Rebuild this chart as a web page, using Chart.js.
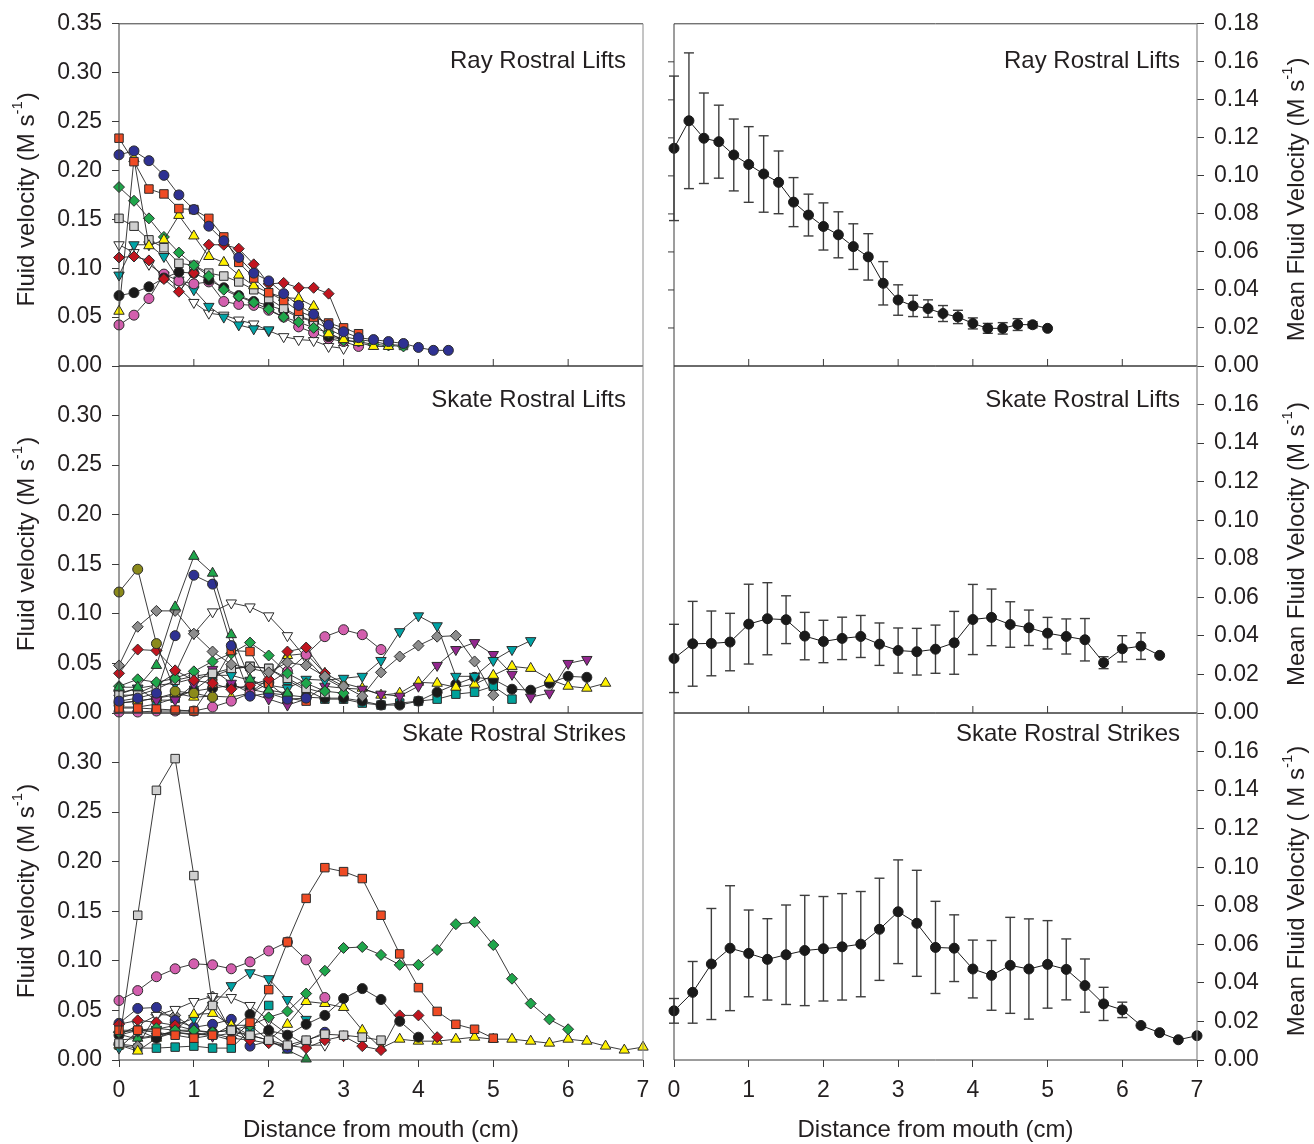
<!DOCTYPE html>
<html>
<head>
<meta charset="utf-8">
<title>Fluid velocity vs distance from mouth</title>
<script src="https://cdn.jsdelivr.net/npm/chart.js@4.4.1/dist/chart.umd.min.js"></script>
<style>
  html, body { margin: 0; padding: 0; background: #fff; }
  #wrap { position: relative; width: 1314px; height: 1144px; }
  #wrap canvas { position: absolute; left: 0; top: 0; }
</style>
</head>
<body>
<div id="wrap">
  <canvas id="c0" width="1314" height="1144"></canvas>
  <canvas id="c1" width="1314" height="1144"></canvas>
  <canvas id="c2" width="1314" height="1144"></canvas>
  <canvas id="c3" width="1314" height="1144"></canvas>
  <canvas id="c4" width="1314" height="1144"></canvas>
  <canvas id="c5" width="1314" height="1144"></canvas>
</div>
<script>
// distances (cm)
const distRay = [0, 0.2, 0.4, 0.6, 0.8, 1.0, 1.2, 1.4, 1.6, 1.8, 2.0, 2.2, 2.4, 2.6, 2.8, 3.0, 3.2, 3.4, 3.6, 3.8, 4.0, 4.2, 4.4, 4.6, 4.8, 5.0];
const distSkate = [0, 0.25, 0.5, 0.75, 1.0, 1.25, 1.5, 1.75, 2.0, 2.25, 2.5, 2.75, 3.0, 3.25, 3.5, 3.75, 4.0, 4.25, 4.5, 4.75, 5.0, 5.25, 5.5, 5.75, 6.0, 6.25, 6.5, 6.75, 7.0];
const xTicks = [0, 1, 2, 3, 4, 5, 6, 7];

// Ray rostral lifts - individual trials
const rayBlue   = [0.216, 0.220, 0.210, 0.195, 0.175, 0.160, 0.143, 0.128, 0.111, 0.095, 0.087, 0.074, 0.062, 0.053, 0.042, 0.035, 0.029, 0.027, 0.025, 0.023, 0.019, 0.016, 0.016];
const rayOrange = [0.233, 0.209, 0.181, 0.176, 0.161, 0.160, 0.151, 0.132, 0.106, 0.090, 0.075, 0.067, 0.056, 0.050, 0.044, 0.039, 0.033];
const rayYellow = [0.056, 0.212, 0.123, 0.129, 0.154, 0.133, 0.112, 0.106, 0.093, 0.082, 0.075, 0.070, 0.069, 0.061, 0.033, 0.027, 0.024, 0.020, 0.020];
const rayGreen  = [0.183, 0.169, 0.151, 0.132, 0.116, 0.103, 0.092, 0.078, 0.071, 0.065, 0.058, 0.050, 0.045, 0.039, 0.034, 0.026, 0.025, 0.022, 0.021, 0.020];
const rayGreyL  = [0.151, 0.143, 0.129, 0.121, 0.105, 0.103, 0.095, 0.092, 0.086, 0.078, 0.069, 0.059, 0.051, 0.046, 0.038, 0.030, 0.027, 0.025, 0.022, 0.021];
const rayWhite  = [0.124, 0.116, 0.104, 0.093, 0.080, 0.065, 0.054, 0.052, 0.047, 0.043, 0.036, 0.030, 0.027, 0.026, 0.020, 0.018];
const rayTeal   = [0.093, 0.124, 0.124, 0.112, 0.088, 0.078, 0.061, 0.050, 0.042, 0.038, 0.037];
const rayRed    = [0.111, 0.112, 0.108, 0.089, 0.076, 0.095, 0.124, 0.124, 0.120, 0.104, 0.084, 0.085, 0.080, 0.080, 0.074, 0.037];
const rayBlack  = [0.072, 0.075, 0.081, 0.090, 0.096, 0.095, 0.088, 0.080, 0.072, 0.066, 0.062, 0.057, 0.050, 0.045, 0.030, 0.027];
const rayPink   = [0.042, 0.052, 0.069, 0.094, 0.087, 0.084, 0.086, 0.066, 0.063, 0.062, 0.057, 0.050, 0.040, 0.034, 0.028, 0.025, 0.020];

// Skate rostral lifts - individual trials
const slOlive   = [0.122, 0.145, 0.070, 0.022, 0.020, 0.016];
const slGreenT  = [0.026, 0.026, 0.048, 0.107, 0.158, 0.141, 0.079, 0.034, 0.023, 0.020];
const slBlue    = [0.012, 0.015, 0.020, 0.078, 0.139, 0.130, 0.068, 0.017, 0.020, 0.014, 0.015];
const slWhite   = [0.015, 0.020, 0.028, 0.040, 0.080, 0.102, 0.111, 0.107, 0.098, 0.078, 0.055, 0.035, 0.025];
const slGrey    = [0.048, 0.087, 0.103, 0.103, 0.080, 0.062, 0.049, 0.045, 0.041, 0.051, 0.048, 0.037, 0.027, 0.017, 0.041, 0.057, 0.068, 0.077, 0.078, 0.052, 0.018];
const slPink    = [0.001, 0.001, 0.002, 0.002, 0.002, 0.006, 0.012, 0.020, 0.030, 0.042, 0.059, 0.077, 0.084, 0.079, 0.064];
const slTealT   = [0.020, 0.025, 0.028, 0.030, 0.035, 0.038, 0.038, 0.033, 0.028, 0.025, 0.034, 0.033, 0.035, 0.037, 0.053, 0.082, 0.098, 0.088, 0.037, 0.037, 0.053, 0.064, 0.073];
const slPurple  = [0.019, 0.025, 0.013, 0.013, 0.029, 0.044, 0.030, 0.020, 0.014, 0.008, 0.014, 0.027, 0.025, 0.024, 0.019, 0.017, 0.027, 0.048, 0.064, 0.071, 0.059, 0.039, 0.016, 0.020, 0.050, 0.054];
const slYellow  = [0.010, 0.012, 0.015, 0.020, 0.016, 0.017, 0.016, 0.020, 0.035, 0.058, 0.060, 0.040, 0.030, 0.025, 0.018, 0.020, 0.031, 0.030, 0.026, 0.029, 0.038, 0.047, 0.045, 0.034, 0.027, 0.025, 0.030];
const slBlack   = [0.010, 0.012, 0.015, 0.018, 0.022, 0.025, 0.028, 0.024, 0.020, 0.018, 0.016, 0.015, 0.015, 0.012, 0.008, 0.008, 0.012, 0.021, 0.029, 0.036, 0.034, 0.024, 0.023, 0.030, 0.037, 0.036];
const slTealS   = [0.006, 0.006, 0.009, 0.015, 0.023, 0.037, 0.044, 0.047, 0.045, 0.033, 0.023, 0.014, 0.014, 0.010, 0.008, 0.010, 0.012, 0.014, 0.019, 0.021, 0.027, 0.014];
const slRed     = [0.040, 0.064, 0.063, 0.043, 0.033, 0.030, 0.024, 0.028, 0.034, 0.062, 0.066, 0.040];
const slGreen   = [0.027, 0.034, 0.031, 0.035, 0.042, 0.052, 0.060, 0.071, 0.058, 0.040, 0.030, 0.022, 0.020];
const slGreyL   = [0.018, 0.018, 0.024, 0.033, 0.037, 0.040, 0.045, 0.047, 0.045, 0.035, 0.025, 0.020];
const slOrange  = [0.005, 0.005, 0.004, 0.003, 0.002, 0.030, 0.063, 0.062, 0.030, 0.015, 0.012];

// Skate rostral strikes - individual trials
const ssGreyL   = [0.017, 0.146, 0.272, 0.304, 0.186, 0.055, 0.030, 0.025, 0.020, 0.015, 0.020, 0.026, 0.025, 0.023, 0.020];
const ssOrange  = [0.030, 0.030, 0.028, 0.025, 0.022, 0.025, 0.020, 0.038, 0.071, 0.119, 0.163, 0.194, 0.190, 0.183, 0.146, 0.107, 0.073, 0.049, 0.036, 0.031, 0.022];
const ssPink    = [0.060, 0.070, 0.084, 0.092, 0.097, 0.096, 0.092, 0.099, 0.110, 0.119, 0.101, 0.063];
const ssGreen   = [0.028, 0.030, 0.032, 0.030, 0.030, 0.028, 0.030, 0.035, 0.043, 0.049, 0.067, 0.090, 0.113, 0.114, 0.106, 0.096, 0.096, 0.111, 0.137, 0.139, 0.116, 0.082, 0.057, 0.041, 0.031];
const ssGreenT  = [0.020, 0.022, 0.025, 0.028, 0.026, 0.025, 0.035, 0.035, 0.020, 0.010, 0.001];
const ssBlack   = [0.025, 0.030, 0.022, 0.028, 0.025, 0.028, 0.030, 0.046, 0.030, 0.025, 0.036, 0.045, 0.062, 0.072, 0.061, 0.039, 0.023];
const ssYellow  = [0.015, 0.009, 0.022, 0.030, 0.046, 0.047, 0.035, 0.025, 0.020, 0.036, 0.059, 0.057, 0.053, 0.030, 0.012, 0.021, 0.019, 0.019, 0.021, 0.023, 0.021, 0.021, 0.019, 0.017, 0.021, 0.019, 0.014, 0.010, 0.013];
const ssWhite   = [0.025, 0.035, 0.045, 0.051, 0.059, 0.064, 0.063, 0.055, 0.040, 0.026, 0.015, 0.015];
const ssTealT   = [0.012, 0.029, 0.031, 0.035, 0.042, 0.055, 0.075, 0.088, 0.082, 0.061, 0.041];
const ssBlue    = [0.037, 0.052, 0.053, 0.040, 0.033, 0.036, 0.041, 0.014, 0.019, 0.012, 0.019, 0.028];
const ssRed     = [0.036, 0.040, 0.038, 0.035, 0.030, 0.027, 0.022, 0.020, 0.017, 0.015, 0.012, 0.020, 0.024, 0.014, 0.010, 0.045, 0.045, 0.023];
const ssTealS   = [0.015, 0.012, 0.012, 0.013, 0.014, 0.012, 0.012, 0.030, 0.055];
const ssPurple  = [0.026, 0.021, 0.024, 0.030, 0.028, 0.024, 0.027, 0.020];
const ssGrey    = [0.016, 0.014, 0.046, 0.045, 0.031, 0.064, 0.028, 0.025, 0.028, 0.015];

// means and errors (right column)
const rayMean = [0.1145, 0.129, 0.1198, 0.118, 0.111, 0.106, 0.101, 0.0966, 0.0862, 0.0794, 0.0734, 0.069, 0.0628, 0.0574, 0.0435, 0.0347, 0.0316, 0.0302, 0.0276, 0.0258, 0.0224, 0.0198, 0.0198, 0.0218, 0.0217, 0.0198];
const rayErr  = [0.038, 0.0357, 0.0238, 0.0192, 0.0189, 0.0199, 0.0201, 0.0165, 0.0129, 0.011, 0.0124, 0.0121, 0.012, 0.0122, 0.0114, 0.008, 0.0056, 0.0046, 0.0042, 0.0035, 0.0029, 0.0026, 0.003, 0.0031, 0.0016, 0];
const slMean  = [0.0283, 0.0359, 0.0361, 0.0368, 0.0461, 0.0489, 0.0484, 0.0399, 0.0371, 0.0387, 0.0397, 0.0357, 0.0324, 0.0318, 0.0331, 0.0364, 0.0485, 0.0496, 0.0459, 0.0442, 0.0414, 0.0397, 0.038, 0.0261, 0.0333, 0.0347, 0.0299];
const slErr   = [0.0177, 0.022, 0.0168, 0.0149, 0.0207, 0.0187, 0.0124, 0.0123, 0.011, 0.011, 0.0109, 0.011, 0.0117, 0.0121, 0.0125, 0.0163, 0.0182, 0.0147, 0.0118, 0.0092, 0.0082, 0.0091, 0.011, 0.0031, 0.0068, 0.0069, 0];
const ssMean  = [0.0255, 0.0351, 0.0498, 0.058, 0.0553, 0.0522, 0.0546, 0.0568, 0.0577, 0.0587, 0.0601, 0.0678, 0.0769, 0.0709, 0.0584, 0.058, 0.0472, 0.0439, 0.0491, 0.0472, 0.0496, 0.047, 0.0386, 0.0291, 0.026, 0.0179, 0.0142, 0.0105, 0.0126];
const ssErr   = [0.0064, 0.016, 0.0288, 0.0324, 0.0225, 0.0211, 0.0258, 0.0286, 0.0271, 0.0276, 0.0273, 0.0265, 0.0269, 0.0275, 0.0239, 0.0173, 0.015, 0.0181, 0.0249, 0.026, 0.0227, 0.0158, 0.0138, 0.0086, 0.004, 0, 0, 0, 0];

const FONT = "'Liberation Sans', Arial, Helvetica, sans-serif";
const TXT = '#231f20';
const AXC = '#3a3a3a';
const EDGE = '#8a8a8a';

// marker looks
const MARK = {
  orangeSq: { shape: 'rect', fill: '#ef4b24', r: 6 },
  blueC:    { shape: 'circle', fill: '#2e3192', r: 5 },
  greenD:   { shape: 'rectRot', fill: '#1fa64b', r: 5.5 },
  greyLSq:  { shape: 'rect', fill: '#cfcfcf', r: 6 },
  whiteT:   { shape: 'triangle', fill: '#ffffff', r: 6, rot: 180 },
  tealT:    { shape: 'triangle', fill: '#00a3a6', r: 6, rot: 180 },
  redD:     { shape: 'rectRot', fill: '#c1151f', r: 5.5 },
  blackC:   { shape: 'circle', fill: '#1a1a1a', r: 5 },
  yellowT:  { shape: 'triangle', fill: '#fff200', r: 6 },
  pinkC:    { shape: 'circle', fill: '#d35fae', r: 5 },
  oliveC:   { shape: 'circle', fill: '#8b8a1a', r: 5 },
  greyD:    { shape: 'rectRot', fill: '#8d8d8d', r: 5.5 },
  purpleT:  { shape: 'triangle', fill: '#93278f', r: 6, rot: 180 },
  tealSq:   { shape: 'rect', fill: '#00a19a', r: 6 },
  greenT:   { shape: 'triangle', fill: '#1fa64b', r: 6 }
};

function trials(list, xs) {
  return list.map(function(item) {
    const vals = item[0], m = MARK[item[1]];
    return {
      data: vals.map(function(v, i) { return { x: xs[i], y: v }; }),
      borderColor: '#262626',
      borderWidth: 0.9,
      pointStyle: m.shape,
      pointRotation: m.rot || 0,
      pointRadius: m.r,
      pointBackgroundColor: m.fill,
      pointBorderColor: '#2b2b2b',
      pointBorderWidth: 1,
      clip: false,
      tension: 0
    };
  });
}

function meanLine(vals, xs) {
  return [{
    data: vals.map(function(v, i) { return { x: xs[i], y: v }; }),
    borderColor: '#1a1a1a',
    borderWidth: 1,
    pointStyle: 'circle',
    pointRadius: 5,
    pointBackgroundColor: '#1a1a1a',
    pointBorderColor: '#1a1a1a',
    pointBorderWidth: 1,
    clip: false,
    tension: 0
  }];
}

const ROW_TOP = [20, 366, 713];
const ROW_BOTTOM = [366, 713, 1060];
const TITLE_DY = [38, 34, 21];

const PANEL_INFO = {
  c0: { row: 0, col: 0, title: 'Ray Rostral Lifts' },
  c1: { row: 0, col: 1, title: 'Ray Rostral Lifts', err: { xs: distRay, m: rayMean, e: rayErr } },
  c2: { row: 1, col: 0, title: 'Skate Rostral Lifts' },
  c3: { row: 1, col: 1, title: 'Skate Rostral Lifts', err: { xs: distSkate, m: slMean, e: slErr } },
  c4: { row: 2, col: 0, title: 'Skate Rostral Strikes' },
  c5: { row: 2, col: 1, title: 'Skate Rostral Strikes', err: { xs: distSkate, m: ssMean, e: ssErr } }
};

function line(ctx, x1, y1, x2, y2, color, w) {
  ctx.beginPath();
  ctx.strokeStyle = color;
  ctx.lineWidth = w || 1;
  ctx.moveTo(x1, y1);
  ctx.lineTo(x2, y2);
  ctx.stroke();
}

// rotated y title with superscript "-1"
function vTitle(ctx, x, y, pre, sup, post) {
  ctx.save();
  ctx.translate(x, y);
  ctx.rotate(-Math.PI / 2);
  ctx.fillStyle = TXT;
  ctx.textAlign = 'left';
  ctx.textBaseline = 'middle';
  ctx.font = '24px ' + FONT;
  const w1 = ctx.measureText(pre).width;
  const w3 = ctx.measureText(post).width;
  ctx.font = '15px ' + FONT;
  const w2 = ctx.measureText(sup).width;
  const s = -(w1 + w2 + w3) / 2;
  ctx.font = '24px ' + FONT;
  ctx.fillText(pre, s, 0);
  ctx.fillText(post, s + w1 + w2 + 1, 0);
  ctx.font = '15px ' + FONT;
  ctx.fillText(sup, s + w1, -9);
  ctx.restore();
}

const panelDecor = {
  id: 'panelDecor',
  beforeDatasetsDraw(chart) {
    const info = PANEL_INFO[chart.canvas.id];
    if (!info || !info.err) return;
    const ctx = chart.ctx, xs = chart.scales.x, ys = chart.scales.y;
    const er = info.err;
    ctx.save();
    for (let i = 0; i < er.m.length; i++) {
      if (!er.e[i]) continue;
      const px = xs.getPixelForValue(er.xs[i]);
      const hi = ys.getPixelForValue(er.m[i] + er.e[i]);
      const lo = ys.getPixelForValue(er.m[i] - er.e[i]);
      line(ctx, px, hi, px, lo, '#3d3d3d', 1.4);
      line(ctx, px - 5, hi, px + 5, hi, '#3d3d3d', 1.4);
      line(ctx, px - 5, lo, px + 5, lo, '#3d3d3d', 1.4);
    }
    ctx.restore();
  },
  afterDraw(chart) {
    const info = PANEL_INFO[chart.canvas.id];
    if (!info) return;
    const ctx = chart.ctx, a = chart.chartArea;
    const xs = chart.scales.x, ys = chart.scales.y;
    ctx.save();
    // frame
    line(ctx, a.left, a.top, a.right, a.top, AXC, 1);
    line(ctx, a.left, a.bottom, a.right, a.bottom, AXC, 1);
    if (info.col === 0) {
      line(ctx, a.left, a.top, a.left, a.bottom, AXC, 1);
      line(ctx, a.right, a.top, a.right, a.bottom, EDGE, 1);
    } else {
      line(ctx, a.left, a.top, a.left, a.bottom, AXC, 1);
      line(ctx, a.right, a.top, a.right, a.bottom, EDGE, 1.2);
    }
    // inward x ticks on upper rows
    if (info.row < 2) {
      xTicks.forEach(function(v) {
        if (v === 0 || v === 7) return;
        const px = xs.getPixelForValue(v);
        line(ctx, px, a.bottom, px, a.bottom - 7, AXC, 1);
      });
    }
    // left-side ticks on the top right panel
    if (info.col === 1 && info.row === 0) {
      ys.ticks.forEach(function(t) {
        if (t.value <= 0 || t.value >= 0.179) return;
        const py = ys.getPixelForValue(t.value);
        line(ctx, a.left - 6, py, a.left, py, AXC, 1);
      });
    }
    // panel title
    ctx.fillStyle = TXT;
    ctx.font = '24px ' + FONT;
    ctx.textAlign = 'right';
    ctx.textBaseline = 'middle';
    ctx.fillText(info.title, a.right - 17, a.top + TITLE_DY[info.row]);
    // axis titles
    const cy = (a.top + a.bottom) / 2 + 5;
    if (info.col === 0) {
      vTitle(ctx, 27, cy, 'Fluid velocity (M s', '-1', ')');
    } else {
      const pre = info.row === 2 ? 'Mean Fluid Velocity ( M s' : 'Mean Fluid Velocity (M s';
      vTitle(ctx, 1297, cy, pre, '-1', ')');
    }
    if (info.row === 2) {
      ctx.font = '24px ' + FONT;
      ctx.textAlign = 'center';
      ctx.textBaseline = 'middle';
      ctx.fillText('Distance from mouth (cm)', (a.left + a.right) / 2, 1130);
    }
    ctx.restore();
  }
};

Chart.defaults.font.family = FONT;
Chart.defaults.color = TXT;
Chart.defaults.animation = false;

function makePanel(id, datasets) {
  const info = PANEL_INFO[id];
  const isLeft = info.col === 0;
  const top = ROW_TOP[info.row], bottom = ROW_BOTTOM[info.row];
  const left = isLeft ? 119 : 674, right = isLeft ? 643 : 1197;
  const xH = info.row === 2 ? 60 : 0;
  const yW = 100;
  const yMax = isLeft ? 0.35 : 0.18;
  const pad = isLeft
    ? { left: left - yW, right: 1314 - right, top: top, bottom: 1144 - bottom - xH }
    : { left: left, right: 1314 - right - yW, top: top, bottom: 1144 - bottom - xH };

  new Chart(document.getElementById(id), {
    type: 'line',
    data: { datasets: datasets },
    plugins: [panelDecor],
    options: {
      responsive: false,
      devicePixelRatio: 1,
      events: [],
      layout: { padding: pad },
      plugins: { legend: { display: false }, tooltip: { enabled: false } },
      scales: {
        x: {
          type: 'linear', position: 'bottom', min: 0, max: 7,
          afterFit: function(s) { s.height = xH; },
          ticks: {
            stepSize: 1, display: info.row === 2, padding: 10, autoSkip: false, maxRotation: 0,
            color: TXT, font: { size: 23 },
            callback: function(v) { return String(v); }
          },
          grid: { drawOnChartArea: false, drawTicks: info.row === 2, tickLength: 7, color: AXC },
          border: { display: false }
        },
        y: {
          type: 'linear', position: isLeft ? 'left' : 'right', min: 0, max: yMax,
          afterFit: function(s) { s.width = yW; },
          ticks: {
            stepSize: isLeft ? 0.05 : 0.02, padding: 10, color: TXT, font: { size: 23 },
            callback: function(v) {
              if (info.row > 0 && v >= yMax - 1e-6) return '';
              return v.toFixed(2);
            }
          },
          grid: { drawOnChartArea: false, drawTicks: true, tickLength: 7, color: AXC },
          border: { display: false }
        }
      }
    }
  });
}

makePanel('c0', trials([
  [rayBlue, 'blueC'], [rayOrange, 'orangeSq'], [rayYellow, 'yellowT'], [rayGreen, 'greenD'],
  [rayRed, 'redD'], [rayGreyL, 'greyLSq'], [rayBlack, 'blackC'], [rayPink, 'pinkC'],
  [rayTeal, 'tealT'], [rayWhite, 'whiteT']
], distRay));

makePanel('c2', trials([
  [slGreenT, 'greenT'], [slBlue, 'blueC'], [slOlive, 'oliveC'], [slGrey, 'greyD'],
  [slRed, 'redD'], [slOrange, 'orangeSq'], [slGreen, 'greenD'], [slGreyL, 'greyLSq'],
  [slTealT, 'tealT'], [slPink, 'pinkC'], [slWhite, 'whiteT'], [slPurple, 'purpleT'],
  [slYellow, 'yellowT'], [slBlack, 'blackC'], [slTealS, 'tealSq']
], distSkate));

makePanel('c4', trials([
  [ssGreyL, 'greyLSq'], [ssOrange, 'orangeSq'], [ssGreen, 'greenD'], [ssPink, 'pinkC'],
  [ssBlack, 'blackC'], [ssRed, 'redD'], [ssYellow, 'yellowT'], [ssTealT, 'tealT'],
  [ssWhite, 'whiteT'], [ssBlue, 'blueC'], [ssGrey, 'greyD'], [ssGreenT, 'greenT'],
  [ssPurple, 'purpleT'], [ssTealS, 'tealSq']
], distSkate));

makePanel('c1', meanLine(rayMean, distRay));
makePanel('c3', meanLine(slMean, distSkate));
makePanel('c5', meanLine(ssMean, distSkate));
</script>
</body>
</html>
